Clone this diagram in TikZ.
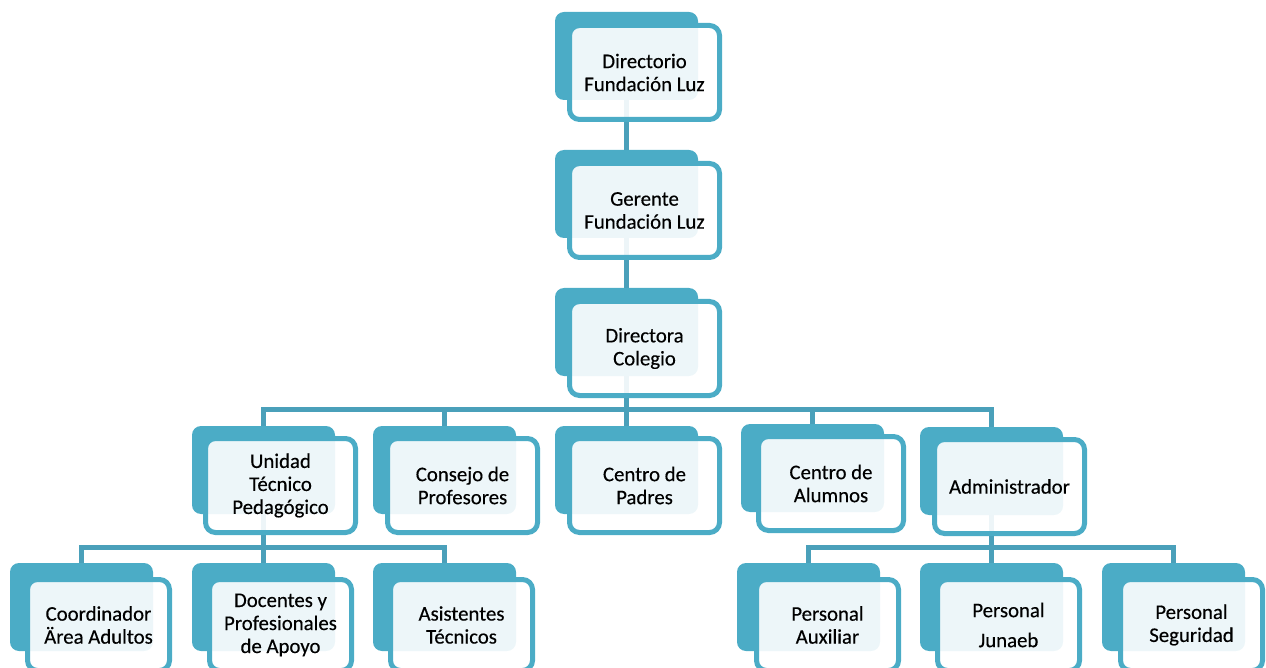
\documentclass[tikz,border=0pt]{standalone}
\usepackage{fontspec}
\setmainfont{Carlito}
\newfontfamily\boxfont{Carlito}[FakeBold=0.35]
\definecolor{tealfill}{RGB}{75,172,198}
\definecolor{connc}{RGB}{74,160,186}
\pgfdeclarelayer{bg}
\pgfsetlayers{bg,main}
\begin{document}
\begin{tikzpicture}[x=1pt,y=-1pt,
  back/.style={fill=tealfill, rounded corners=9pt, minimum width=143pt, minimum height=88pt,
    anchor=north west, inner sep=0pt, outer sep=0pt},
  front/.style={draw=tealfill, line width=5pt, fill=white, fill opacity=0.9, text opacity=1,
    rounded corners=10pt, minimum width=150pt, minimum height=94pt, anchor=north west,
    align=center, font=\boxfont\fontsize{20.8}{23}\selectfont, text=black, inner sep=2pt},
  frontlow/.style={front, minimum width=142pt, minimum height=91pt},
  conn/.style={draw=connc, line width=5pt}]
\useasboundingbox (0,0) rectangle (1266,668);
\clip (0,0) rectangle (1266,668);
\coordinate (bus1) at (0,409);
\coordinate (bus2) at (0,547);
% back boxes
\node[back] (b1) at (555,12) {};
\node[back] (b2) at (555,150) {};
\node[back] (b3) at (555,288) {};
\node[back] (b4) at (192,426) {};
\node[back] (b5) at (373,426) {};
\node[back] (b6) at (555,426) {};
\node[back] (b7) at (741,424) {};
\node[back] (b8) at (920,427) {};
\node[back] (b9) at (10,563) {};
\node[back] (b10) at (192,563) {};
\node[back] (b11) at (373,563) {};
\node[back] (b12) at (737,563) {};
\node[back] (b13) at (920,563) {};
\node[back] (b14) at (1102,563) {};
% front boxes with text
\node[front] (f1) at (567,23) {Directorio\\Fundación Luz};
\node[front] (f2) at (567,161) {Gerente\\Fundación Luz};
\node[front] (f3) at (567,299) {Directora\\Colegio};
\node[front] (f4) at (203,436) {Unidad\\Técnico\\Pedagógico};
\node[front] (f5) at (385,436) {Consejo de\\Profesores};
\node[front] (f6) at (567,436) {Centro de\\Padres};
\node[front, minimum width=145pt] (f7) at (756,434) {Centro de\\Alumnos};
\node[front] (f8) at (932,437) {Administrador};
\node[frontlow] (f9) at (25,577) {Coordinador\\Ärea Adultos};
\node[frontlow] (f10) at (207,577) {Docentes y\\Profesionales\\de Apoyo};
\node[frontlow] (f11) at (388,577) {Asistentes\\Técnicos};
\node[frontlow] (f12) at (754,577) {Personal\\Auxiliar};
\node[frontlow] (f13) at (935,577) {Personal\\[7pt]Junaeb};
\node[frontlow] (f14) at (1118,577) {Personal\\Seguridad};
% connectors (behind everything)
\begin{pgfonlayer}{bg}
\draw[conn] (b1.center) -- (b2.center);
\draw[conn] (b2.center) -- (b3.center);
\foreach \c in {b4,b5,b6,b7,b8}
  \draw[conn] (b3.center) -- (b3.center |- bus1) -| (\c.north);
\foreach \c in {b9,b10,b11}
  \draw[conn] (b4.center) -- (b4.center |- bus2) -| (\c.north);
\foreach \c in {b12,b13,b14}
  \draw[conn] (b8.center) -- (b8.center |- bus2) -| (\c.north);
\end{pgfonlayer}
\end{tikzpicture}
\end{document}
